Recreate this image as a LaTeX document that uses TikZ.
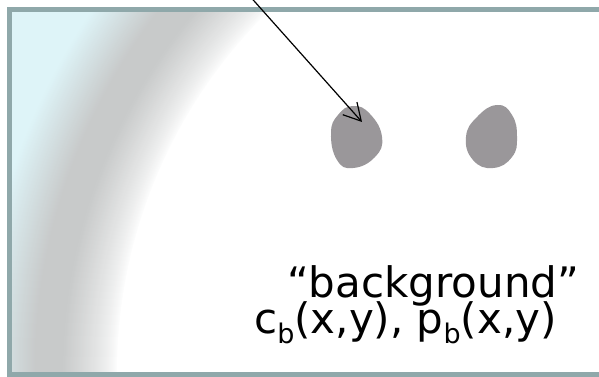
\documentclass[tikz,border=0pt]{standalone}
\usepackage{fontspec}
\setmainfont{DejaVu Sans}
\usetikzlibrary{arrows.meta}
\definecolor{framecol}{RGB}{143,168,170}
\definecolor{glowcyan}{RGB}{222,244,248}
\definecolor{glowgray}{RGB}{200,202,202}
\definecolor{blobcol}{RGB}{154,151,154}
\begin{document}
\begin{tikzpicture}[x=1pt,y=-1pt,
  blob/.style={fill=blobcol},
  lbl/.style={inner sep=0pt, anchor=base west, font=\fontsize{42}{42}\selectfont},
  arr/.style={black, line width=1.2pt, -{Straight Barb[length=17pt,width=19pt]}},
  framestyle/.style={framecol, line width=5pt}]
\clip (0,0) rectangle (599,377);
\fill[white] (0,0) rectangle (599,377);
% glow shading on the left
\begin{scope}
  \clip (12,12) rectangle (599,372);
  \fill[glowcyan] (12,12) rectangle (599,372);
  \foreach \r in {720,719,...,508} {
    \pgfmathsetmacro{\fa}{max(0,min(100,100*(max(0.001,(\r-508)/55))^0.75))}
    \pgfmathsetmacro{\fb}{max(0,min(100,(\r-590)/55*100))}
    \colorlet{tmpA}{glowgray!\fa!white}
    \colorlet{tmpB}{glowcyan!\fb!tmpA}
    \fill[tmpB] (625,373) circle (\r);
  }
  \fill[white] (625,373) circle (508);
\end{scope}
% frame (open on the right)
\draw[framestyle] (640,9.5) -- (9.5,9.5) -- (9.5,374.5) -- (640,374.5);
% blobs
\fill[blob] plot[smooth cycle, tension=0.8] coordinates
  {(353,106) (370,114) (382,137) (375,157) (353,168) (337,160) (331,133) (338,115)};
\fill[blob] plot[smooth cycle, tension=0.8] coordinates
  {(497,105) (512,115) (517,137) (512,157) (493,168) (473,160) (466,137) (477,117)};
\coordinate (blobA) at (357,137);
\coordinate (blobB) at (491,137);
% arrow
\coordinate (start) at (247,-7);
\coordinate (tip) at (362,122);
\draw[arr] (start) -- (tip);
% labels
\node[lbl] (bg) at (287,297) {“background”};
\node[lbl] (fn) at (254,333) {c\raisebox{-10pt}{\fontsize{27}{27}\selectfont b}(x,y), p\raisebox{-10pt}{\fontsize{27}{27}\selectfont b}(x,y)};
\end{tikzpicture}
\end{document}
